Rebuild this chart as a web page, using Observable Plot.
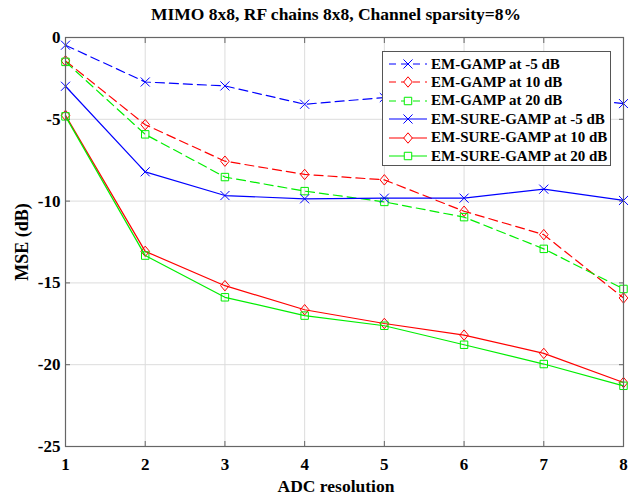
<!DOCTYPE html>
<html><head><meta charset="utf-8">
<script src="https://cdn.jsdelivr.net/npm/d3@7"></script>
<script src="https://cdn.jsdelivr.net/npm/@observablehq/plot@0.6"></script>
<style>
body{margin:0;background:#fff;}
#wrap{position:relative;width:628px;height:497px;font-family:"Liberation Serif","Times New Roman",serif;font-weight:bold;color:#000;overflow:hidden;}
#wrap > svg{position:absolute;left:0;top:0;}
.lbl{position:absolute;white-space:nowrap;line-height:1;}
#legend{position:absolute;left:382px;top:51px;width:229px;height:115px;border:1px solid #555;background:#fff;box-sizing:border-box;}
.row{position:absolute;left:0;height:18px;display:flex;align-items:center;font-size:15px;}
.row svg{margin-left:6px;margin-right:4px;}
</style></head><body><div id="wrap"></div>
<script>
// ---- data ----
const adcResolution = [1, 2, 3, 4, 5, 6, 7, 8];
const seriesNames = [
  "EM-GAMP at -5 dB", "EM-GAMP at 10 dB", "EM-GAMP at 20 dB",
  "EM-SURE-GAMP at -5 dB", "EM-SURE-GAMP at 10 dB", "EM-SURE-GAMP at 20 dB"
];
const emGampM5     = [-0.47, -2.72, -2.96, -4.08, -3.67, -3.6, -3.55, -4.04];
const emGamp10     = [-1.43, -5.33, -7.56, -8.37, -8.70, -10.62, -12.05, -15.92];
const emGamp20     = [-1.49, -5.92, -8.53, -9.39, -10.05, -10.98, -12.92, -15.37];
const emSureGampM5 = [-2.98, -8.21, -9.66, -9.86, -9.82, -9.82, -9.27, -9.96];
const emSureGamp10 = [-4.76, -13.07, -15.17, -16.64, -17.48, -18.19, -19.31, -21.09];
const emSureGamp20 = [-4.82, -13.33, -15.88, -17.00, -17.62, -18.78, -19.96, -21.29];
const xTicks = [1, 2, 3, 4, 5, 6, 7, 8];
const yTicks = [-25, -20, -15, -10, -5, 0];
const titleText = "MIMO 8x8, RF chains 8x8, Channel sparsity=8%";
const xLabel = "ADC resolution";
const yLabel = "MSE (dB)";

// ---- styles ----
const BLUE = "#0000ff", RED = "#ff0000", GREEN = "#00ee00";
const diamondSym = {draw(ctx, size) {
  const w = Math.sqrt(size) * 0.58, h = Math.sqrt(size) * 0.70;
  ctx.moveTo(0, -h); ctx.lineTo(w, 0); ctx.lineTo(0, h); ctx.lineTo(-w, 0); ctx.closePath();
}};
const styles = [
  {color: BLUE, dash: "9,5", symbol: "times"},
  {color: RED, dash: "9,5", symbol: diamondSym},
  {color: GREEN, dash: "9,5", symbol: "square"},
  {color: BLUE, dash: null, symbol: "times"},
  {color: RED, dash: null, symbol: diamondSym},
  {color: GREEN, dash: null, symbol: "square"}
];
const seriesValues = [emGampM5, emGamp10, emGamp20, emSureGampM5, emSureGamp10, emSureGamp20];
const tables = seriesValues.map((vals, i) => adcResolution.map((x, j) => ({x, y: vals[j], s: seriesNames[i]})));

const plainFmt = d => String(d);
const marks = [
  Plot.gridX(xTicks, {stroke: "#dcdcdc", strokeOpacity: 1}),
  Plot.gridY(yTicks, {stroke: "#dcdcdc", strokeOpacity: 1}),
  Plot.axisX(xTicks, {tickSize: 0, tickPadding: 11, label: null, fontSize: 17, tickFormat: plainFmt}),
  Plot.axisY(yTicks, {tickSize: 0, tickPadding: 5, label: null, fontSize: 17, tickFormat: plainFmt}),
  Plot.axisX(xTicks, {anchor: "bottom", tickSize: -5, tickFormat: () => "", label: null, stroke: "#666"}),
  Plot.axisX(xTicks, {anchor: "top", tickSize: -5, tickFormat: () => "", label: null, stroke: "#666"}),
  Plot.axisY(yTicks, {anchor: "left", tickSize: -5, tickFormat: () => "", label: null, stroke: "#666"}),
  Plot.axisY(yTicks, {anchor: "right", tickSize: -5, tickFormat: () => "", label: null, stroke: "#666"})
];
tables.forEach((t, i) => {
  const st = styles[i];
  marks.push(Plot.line(t, {x: "x", y: "y", stroke: st.color, strokeWidth: 1.2, strokeDasharray: st.dash}));
  marks.push(Plot.dot(t, {x: "x", y: "y", stroke: st.color, strokeWidth: 1, fill: "none", symbol: () => st.symbol, r: 4.2}));
});
marks.push(Plot.frame({stroke: "#666", strokeWidth: 1.2}));

const chart = Plot.plot({
  width: 628, height: 497,
  marginLeft: 65, marginRight: 5, marginTop: 37, marginBottom: 51,
  x: {domain: [1, 8]},
  y: {domain: [-25, 0]},
  symbol: {type: "identity"},
  style: {fontFamily: '"Liberation Serif","Times New Roman",serif', fontWeight: "bold", fontSize: "17px", color: "#000", background: "#fff"},
  marks
});
const wrap = document.getElementById("wrap");
wrap.appendChild(chart);

function addLabel(text, css) {
  const d = document.createElement("div");
  d.className = "lbl"; d.textContent = text;
  Object.assign(d.style, css);
  wrap.appendChild(d);
}
addLabel(titleText, {left: "336px", top: "6px", fontSize: "17.5px", transform: "translateX(-50%)"});
addLabel(xLabel, {left: "336px", top: "478px", fontSize: "17.5px", transform: "translateX(-50%)"});
addLabel(yLabel, {left: "22px", top: "242px", fontSize: "18px", transform: "translate(-50%,-50%) rotate(-90deg)"});

// legend
const lg = document.createElement("div"); lg.id = "legend"; wrap.appendChild(lg);
seriesNames.forEach((name, i) => {
  const st = styles[i];
  const row = document.createElement("div"); row.className = "row";
  row.style.top = (3 + i * 18.4) + "px";
  const s = d3.create("svg").attr("width", 38).attr("height", 14);
  s.append("line").attr("x1", 0).attr("x2", 38).attr("y1", 7).attr("y2", 7)
    .attr("stroke", st.color).attr("stroke-width", 1.2).attr("stroke-dasharray", st.dash ? "7,5" : null);
  const symType = st.symbol === "times" ? d3.symbolTimes : st.symbol === "square" ? d3.symbolSquare : st.symbol;
  s.append("path").attr("transform", "translate(19,7)").attr("d", d3.symbol(symType, Math.PI * 4.2 * 4.2)())
    .attr("fill", "#fff").attr("stroke", st.color).attr("stroke-width", 1);
  row.appendChild(s.node());
  const sp = document.createElement("span"); sp.textContent = name; row.appendChild(sp);
  lg.appendChild(row);
});
</script></body></html>
